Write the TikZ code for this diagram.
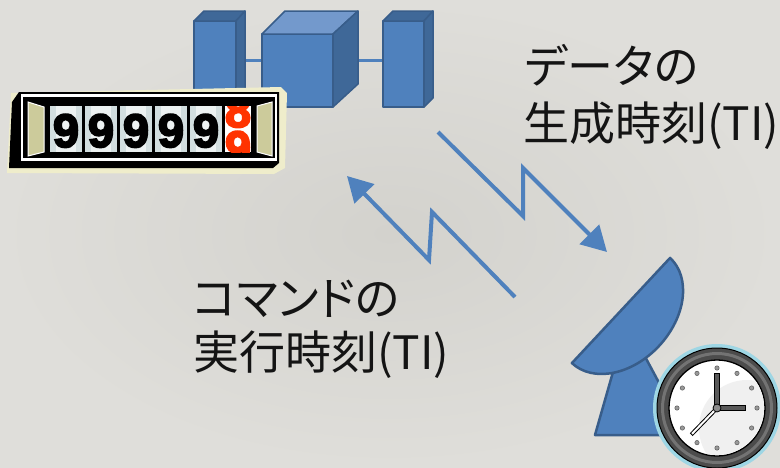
\documentclass[tikz,border=0pt]{standalone}
\usepackage{fontspec}
\usetikzlibrary{arrows.meta}
\newfontfamily\jpfont[RawFeature=+palt]{Noto Sans CJK JP}
\newfontfamily\digitfont[FakeBold=4]{Liberation Sans Bold}

\definecolor{bgmid}{HTML}{D3D2CD}
\definecolor{bgedge}{HTML}{DFDEDA}
\definecolor{accent}{HTML}{4F81BD}
\definecolor{accentdark}{HTML}{385D8A}
\definecolor{accentside}{HTML}{3F6898}
\definecolor{accenttop}{HTML}{7399CC}
\definecolor{cream}{HTML}{EFEDCB}
\definecolor{khaki}{HTML}{CCCB9B}
\definecolor{cellblue}{HTML}{D2DEDF}
\definecolor{rollred}{HTML}{FF3300}
\definecolor{ringblue}{HTML}{9ED6E4}

\begin{document}
\begin{tikzpicture}[x=1pt,y=-1pt,
  facet/.style={draw=accentdark, line width=1.5pt, line join=round},
  radiolink/.style={draw=accent, line width=4pt, line join=miter,
    -{Triangle[length=25pt,width=27pt]}},
  jplabel/.style={font=\jpfont\fontsize{46}{56}\selectfont, anchor=base west,
    inner sep=0pt, text=black!92},
  digit/.style={font=\digitfont\fontsize{47}{47}\selectfont,
    anchor=base, inner sep=0pt},
  tickdot/.style={fill=black!40, draw=black!65, line width=0.5pt},
]
\useasboundingbox (0,0) rectangle (780,467);
\clip (0,0) rectangle (780,467);
\shade[inner color=bgmid, outer color=bgedge] (0,0) rectangle (780,467);

% ---- satellite ----
\draw[accent, line width=3pt] (240,60) -- (270,60);
\draw[accent, line width=3pt] (350,60) -- (390,60);
% left solar panel
\path[facet, fill=accent] (194,21) rectangle (236,107);
\path[facet, fill=accentside] (194,21) -- (204,11) -- (245,11) -- (236,21) -- cycle;
\path[facet, fill=accentside] (236,21) -- (245,11) -- (245,98) -- (236,107) -- cycle;
% body
\path[facet, fill=accent] (262,34) rectangle (333,107);
\path[facet, fill=accenttop] (262,34) -- (285,11) -- (358,11) -- (333,34) -- cycle;
\path[facet, fill=accentside] (333,34) -- (358,11) -- (358,84) -- (333,107) -- cycle;
% right solar panel
\path[facet, fill=accent] (383,21) rectangle (424,107);
\path[facet, fill=accentside] (383,21) -- (393,11) -- (433,11) -- (424,21) -- cycle;
\path[facet, fill=accentside] (424,21) -- (433,11) -- (433,98) -- (424,107) -- cycle;

% ---- counter ----
\fill[cream] (7,173) -- (11,93) -- (281,87) -- (287,93) -- (285,168) -- (274,174) -- cycle;
\fill[black] (9,168) -- (12,102) -- (19,92) -- (279,92) -- (279,163) -- (273,168) -- cycle;
\draw[white, line width=2.5pt] (22,95.5) rectangle (276,159.5);
\filldraw[fill=khaki, draw=white, line width=1pt] (28,102) -- (44,107) -- (44,152) -- (28,156) -- cycle;
\filldraw[fill=khaki, draw=white, line width=1pt] (257,106) -- (272,102) -- (272,156) -- (257,152) -- cycle;
\foreach \x [count=\i] in {50,85,120,155,190} {
  \fill[cellblue] (\x,106) rectangle ++(32,46);
  \fill[white!60!cellblue] (\x+6,106) rectangle ++(20,46);
  \node[digit] (digit\i) at (\x+16,147) {9};
}
\fill[white] (225,106) rectangle (251,152);
\begin{scope}
  \clip (225,106) rectangle (251,152);
  \node[digit, text=rollred] (rollA) at (238,127) {8};
  \node[digit, text=rollred] (rollB) at (238,164) {9};
\end{scope}

% ---- ground antenna ----
\path[facet, line width=2.5pt, fill=accent] (627,323) -- (595,435) -- (687,435) -- cycle;
\path[facet, line width=2.5pt, fill=accent]
  (670.1,257.9) .. controls (691.1,277.5) and (686.1,316.9) .. (659.0,346.0)
  .. controls (631.9,375.1) and (592.9,382.7) .. (571.9,363.1) -- cycle;

% ---- clock ----
\coordinate (clock) at (717,408);
\fill[ringblue] (clock) circle (64pt);
\filldraw[fill=black!70, draw=black, line width=1pt] (clock) circle (60pt);
\draw[black!55, line width=3pt] (clock) circle (54.5pt);
\filldraw[fill=white, draw=black, line width=1.3pt] (clock) circle (48pt);
\begin{scope}
  \clip (clock) circle (47pt);
  \fill[black!6] (clock) ++(30pt,-20pt) circle (48pt);
\end{scope}
\foreach \a in {0,30,...,330} \filldraw[tickdot] (clock) ++(\a:40pt) circle (2.2pt);
\draw[black, line width=6pt] (clock) -- ++(0:29pt);
\draw[black!65, line width=4pt] (clock) -- ++(0:28pt);
\draw[black, line width=6pt] (clock) -- ++(90:35pt);
\draw[black!65, line width=4pt] (clock) -- ++(90:34pt);
\draw[black, line width=4pt] (clock) -- ++(226:37pt);
\draw[white, line width=2pt] (clock) -- ++(226:36pt);
\filldraw[fill=black!45, draw=black, line width=0.8pt] (clock) circle (4pt);

% ---- radio links ----
\coordinate (dn0) at (438,132);
\coordinate (dn1) at (523,216);
\coordinate (dn2) at (523,168);
\coordinate (dn3) at (607,252);
\draw[radiolink] (dn0) -- (dn1) -- (dn2) -- (dn3);
\coordinate (up0) at (515,297);
\coordinate (up1) at (432,212);
\coordinate (up2) at (429,260);
\coordinate (up3) at (347,176);
\draw[radiolink] (up0) -- (up1) -- (up2) -- (up3);

% ---- labels ----
\node[jplabel] (tlmA) at (525,83) {データの};
\node[jplabel] (tlmB) at (523,140) {生成時刻(TI)};
\node[jplabel] (cmdA) at (193,315) {コマンドの};
\node[jplabel] (cmdB) at (193,369) {実行時刻(TI)};
\end{tikzpicture}
\end{document}
